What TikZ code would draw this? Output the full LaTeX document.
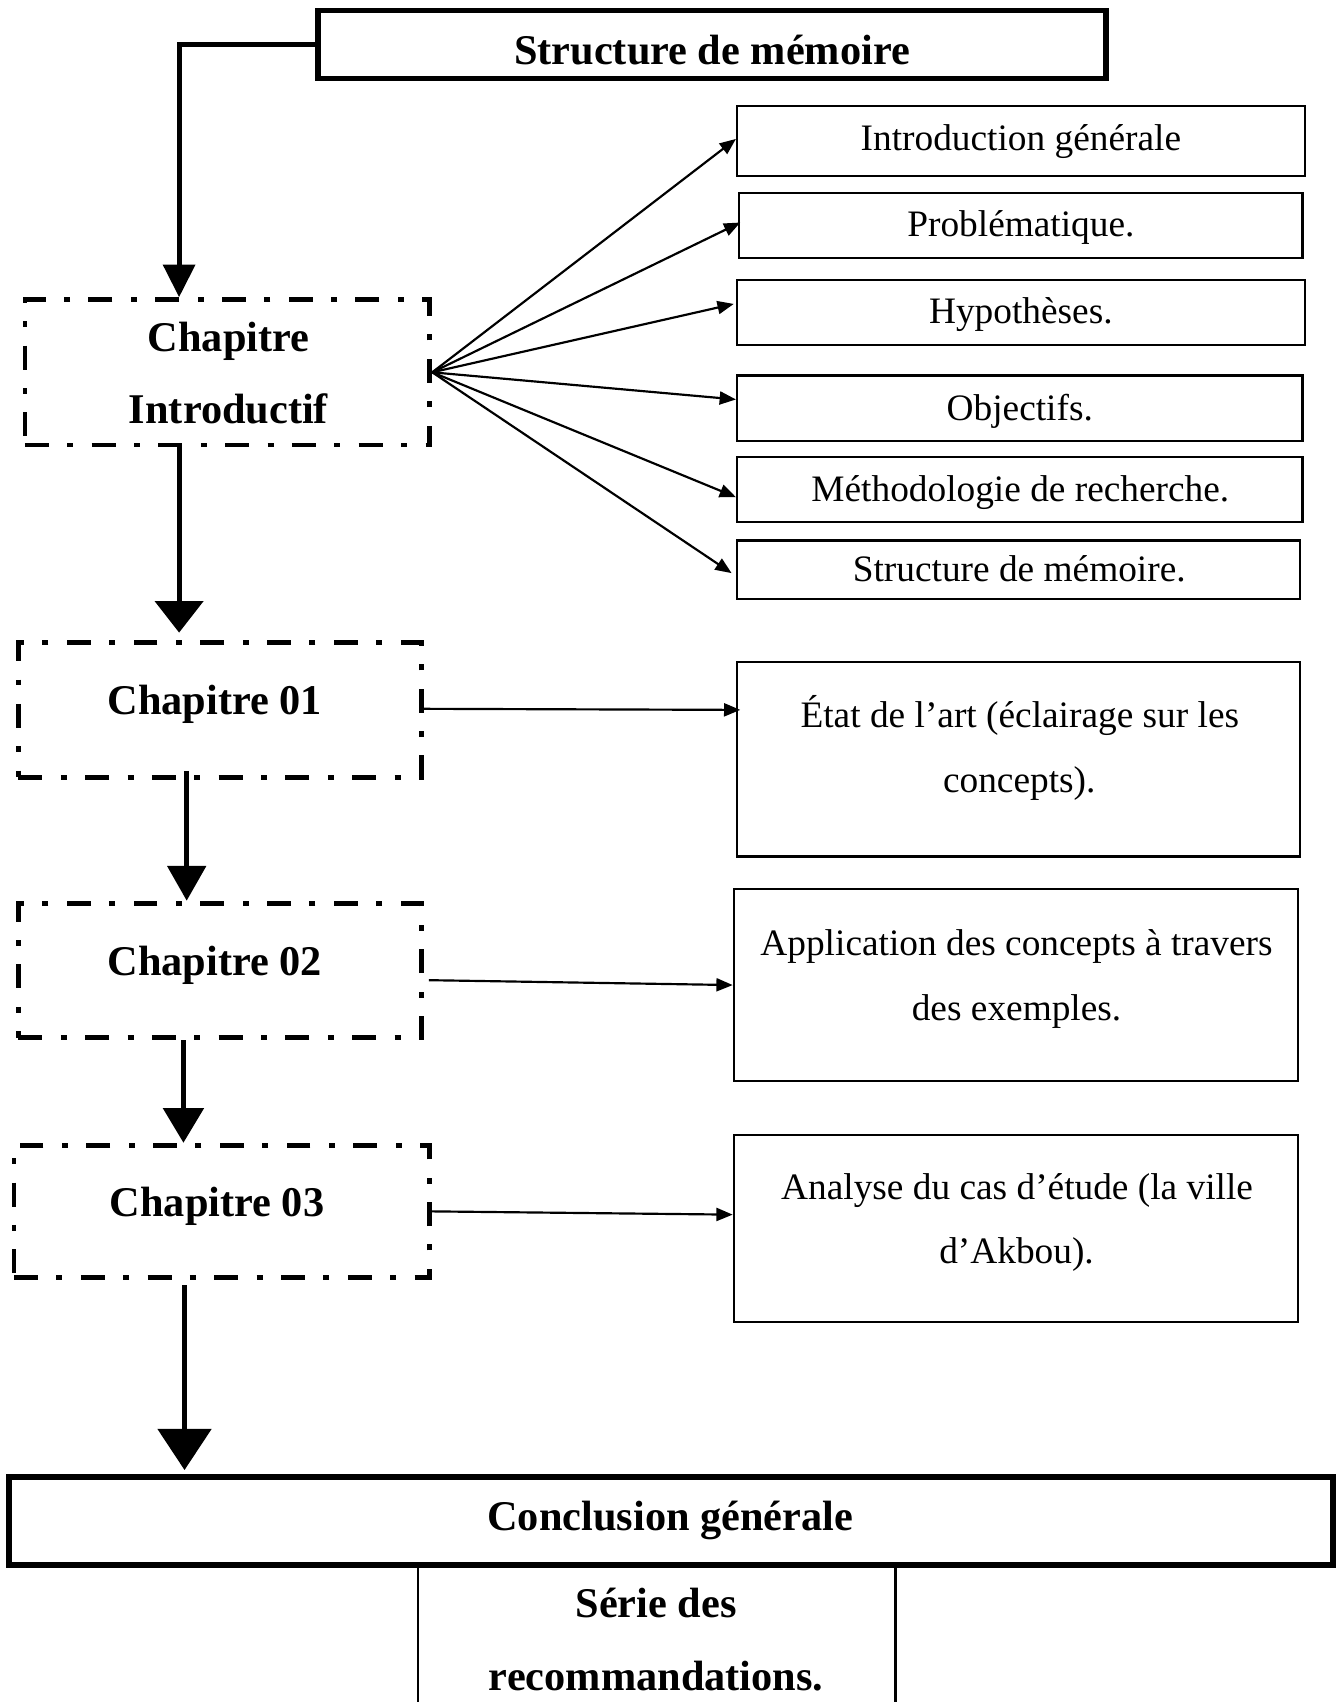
\documentclass[tikz,border=0pt]{standalone}
\usepackage{fontspec}
\setmainfont{Liberation Serif}
\usetikzlibrary{arrows.meta}
\begin{document}
\begin{tikzpicture}[x=0.5pt,y=-0.5pt,
  chap/.style={draw, line width=2.2pt, dash pattern=on 11pt off 8.5pt on 2.75pt off 8.5pt, inner sep=0pt},
  rbox/.style={draw, line width=1pt, inner sep=0pt},
  tbox/.style={draw, line width=2.4pt, inner sep=0pt},
  vtip/.style 2 args={line width=2.3pt, -{Triangle[width=#1,length=#2]}},
  fan/.style={line width=1pt, -{Triangle[width=6pt,length=7.5pt]}},
  lbl/.style={font=\fontsize{17.2}{20}\selectfont, anchor=base, inner sep=0pt},
  blbl/.style={font=\bfseries\fontsize{19.5}{23}\selectfont, anchor=base, inner sep=0pt}]
\useasboundingbox (0,0) rectangle (1233,1568);

% main boxes
\node[tbox, minimum width=363pt, minimum height=31pt] (title) at (656,41) {};
\node[blbl] (ttitle) at (656,59) {Structure de mémoire};

\node[chap, minimum width=186.5pt, minimum height=67pt] (intro) at (209.5,343) {};
\node[blbl] (tintroa) at (210.5,324) {Chapitre};
\node[blbl] (tintrob) at (210.5,390) {Introductif};

\node[chap, minimum width=185.5pt, minimum height=62pt] (ch01) at (202.5,654) {};
\node[blbl] (tch01) at (198,658) {Chapitre 01};

\node[chap, minimum width=185.5pt, minimum height=62pt] (ch02) at (202.5,894) {};
\node[blbl] (tch02) at (198,898.5) {Chapitre 02};

\node[chap, minimum width=191.5pt, minimum height=61pt] (ch03) at (204.5,1116) {};
\node[blbl] (tch03) at (200,1121) {Chapitre 03};

\node[tbox, line width=2.7pt, minimum width=610pt, minimum height=40.5pt] (concl) at (618,1401.5) {};
\node[blbl] (tconcl) at (617.5,1410) {Conclusion générale};

\node[rbox, line width=1.2pt, minimum width=220pt, minimum height=99pt] (serie) at (605,1541) {};
\node[blbl] (tseriea) at (604.5,1490) {Série des};
\node[blbl] (tserieb) at (604.5,1557.5) {recommandations.};

% right boxes
\node[rbox, minimum width=261.5pt, minimum height=32pt] (b1) at (940.5,130) {};
\node[lbl] (t1) at (940.5,139) {Introduction générale};
\node[rbox, minimum width=259.5pt, minimum height=30pt] (b2) at (940.5,208) {};
\node[lbl] (t2) at (940.5,218) {Problématique.};
\node[rbox, minimum width=261.5pt, minimum height=30pt] (b3) at (940.5,288) {};
\node[lbl] (t3) at (940.5,298) {Hypothèses.};
\node[rbox, minimum width=260.5pt, minimum height=30pt] (b4) at (939.5,376) {};
\node[lbl] (t4) at (939.5,387) {Objectifs.};
\node[rbox, minimum width=260.5pt, minimum height=30pt] (b5) at (939.5,451) {};
\node[lbl] (t5) at (940,462) {Méthodologie de recherche.};
\node[rbox, minimum width=259.5pt, minimum height=27pt] (b6) at (938.5,525) {};
\node[lbl] (t6) at (939,536) {Structure de mémoire.};

\node[rbox, minimum width=259.5pt, minimum height=89.5pt] (b7) at (938.5,699.5) {};
\node[lbl] (t7a) at (939.5,670) {État de l’art (éclairage sur les};
\node[lbl] (t7b) at (939,730) {concepts).};
\node[rbox, minimum width=260pt, minimum height=88.5pt] (b8) at (936,907.5) {};
\node[lbl] (t8a) at (936.5,880) {Application des concepts à travers};
\node[lbl] (t8b) at (936.5,940) {des exemples.};
\node[rbox, minimum width=260pt, minimum height=86pt] (b9) at (936,1132) {};
\node[lbl] (t9a) at (937,1105) {Analyse du cas d’étude (la ville};
\node[lbl] (t9b) at (936.5,1164) {d’Akbou).};

% vertical connectors
\draw[vtip={14.5pt}{15pt}] (title.west) -| ([xshift=-22.25pt]intro.north);
\draw[vtip={22pt}{14.5pt}] ([xshift=-22.25pt]intro.south) -- ([xshift=-22.25pt,yshift=3.5pt]intro.south |- ch01.north);
\draw[vtip={17.5pt}{16pt}] ([xshift=-15.25pt,yshift=4pt]ch01.south) -- ([xshift=-15.25pt]ch02.north);
\draw[vtip={18.5pt}{16pt}] ([xshift=-16.75pt]ch02.south) -- ([xshift=-17.75pt]ch03.north);
\draw[vtip={24.5pt}{19pt}] ([xshift=-17.25pt,yshift=-2.5pt]ch03.south) -- ([xshift=-17.25pt,yshift=2pt]ch03.south |- concl.north);

% fan connectors
\draw[fan] (intro.east) -- ([yshift=1pt]b1.west);
\draw[fan] (intro.east) -- ([xshift=1pt,yshift=1.5pt]b2.west);
\draw[fan] (intro.east) -- ([xshift=-1pt,yshift=4pt]b3.west);
\draw[fan] (intro.east) -- ([yshift=4pt]b4.west);
\draw[fan] (intro.east) -- ([yshift=-3.5pt]b5.west);
\draw[fan] (intro.east) -- ([xshift=-2pt,yshift=-1.5pt]b6.west);

% chapter to content connectors
\draw[fan] ([yshift=0.5pt]ch01.east) -- ([xshift=2pt]b7.west |- ch01.east);
\draw[fan] ([xshift=2.5pt,yshift=-4.5pt]ch02.east) -- (b8.west);
\draw[fan] (ch03.east) -- ([yshift=6.5pt]b9.west);
\end{tikzpicture}
\end{document}
